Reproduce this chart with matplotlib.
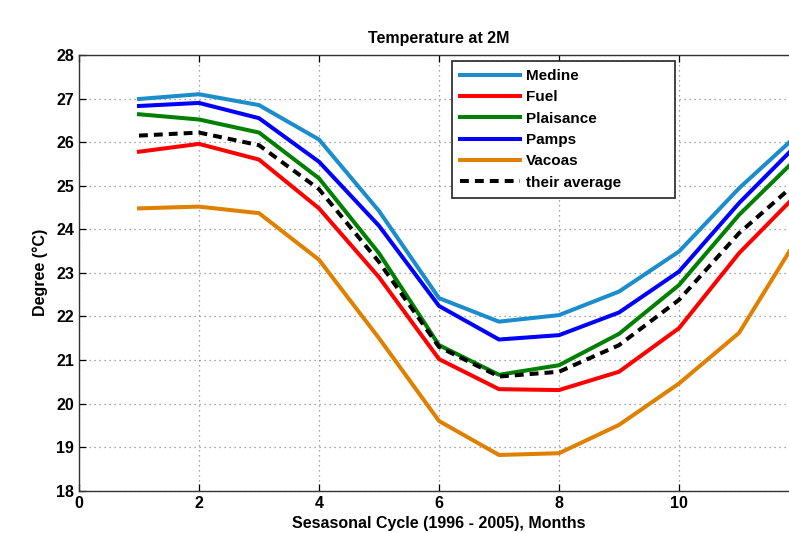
import matplotlib.pyplot as plt
import numpy as np

# Monthly climatology of 2 m temperature
months = [1, 2, 3, 4, 5, 6, 7, 8, 9, 10, 11, 12]
medine = [26.99, 27.10, 26.85, 26.06, 24.42, 22.42, 21.88, 22.03, 22.57, 23.49, 24.94, 26.20]
fuel = [25.78, 25.96, 25.60, 24.48, 22.90, 21.02, 20.33, 20.31, 20.73, 21.73, 23.45, 24.85]
plaisance = [26.64, 26.52, 26.22, 25.17, 23.45, 21.34, 20.66, 20.88, 21.60, 22.72, 24.33, 25.68]
pamps = [26.83, 26.90, 26.55, 25.55, 24.08, 22.24, 21.47, 21.57, 22.09, 23.03, 24.60, 25.99]
vacoas = [24.48, 24.52, 24.37, 23.30, 21.50, 19.60, 18.82, 18.86, 19.51, 20.46, 21.62, 23.85]
average = [26.15, 26.22, 25.93, 24.92, 23.25, 21.30, 20.62, 20.73, 21.34, 22.38, 23.91, 25.12]

series = [
    ('Medine', medine, '#1b8ccc'),
    ('Fuel', fuel, '#ff0000'),
    ('Plaisance', plaisance, '#008000'),
    ('Pamps', pamps, '#0000ff'),
    ('Vacoas', vacoas, '#e08000'),
]

plt.rcParams['font.family'] = ['Liberation Sans', 'DejaVu Sans']
plt.rcParams['font.weight'] = 'bold'

fig = plt.figure(figsize=(7.89, 5.33), dpi=100)
# axes extends past the right edge of the picture, like the cropped original
ax = fig.add_axes([79 / 789, 42.3 / 533, 720 / 789, 435.7 / 533])

for name, vals, col in series:
    ax.plot(months, vals, '-', color=col, lw=2.9, label=name)
ax.plot(months, average, '--', color='black', lw=2.9, dashes=(2.2, 1.5), label='their average')

ax.set_xlim(0, 12)
ax.set_ylim(18, 28)
# x = 12 sits just outside the picture, so only 0..10 get labels
ax.set_xticks(np.arange(0, 11, 2))
ax.set_yticks(np.arange(18, 29, 1))
ax.grid(True, linestyle=(0, (1, 3)), color='#8a8a8a', lw=0.9)
ax.tick_params(direction='in', top=True, right=True, labelsize=11.5, length=5, width=0.9)
for lab in ax.get_xticklabels() + ax.get_yticklabels():
    lab.set_fontweight('bold')
for sp in ax.spines.values():
    sp.set_linewidth(1.0)
    sp.set_color('#333333')

ax.set_title('Temperature at 2M', fontsize=11.5, fontweight='bold', pad=9)
ax.set_xlabel('Sesasonal Cycle (1996 - 2005), Months', fontsize=11.5, fontweight='bold', labelpad=4)
ax.set_ylabel('Degree (\u00b0C)', fontsize=11.5, fontweight='bold', labelpad=6)

leg = ax.legend(loc='upper left', bbox_to_anchor=(0.518, 0.0, 0.31, 0.987), mode='expand',
                borderaxespad=0, fontsize=11, handlelength=3.9, handletextpad=0.4,
                labelspacing=0.48, borderpad=0.55, fancybox=False, framealpha=1)
leg.get_frame().set_edgecolor('#222222')
leg.get_frame().set_linewidth(1.2)
for t in leg.get_texts():
    t.set_fontweight('bold')

fig.savefig('out.png', dpi=100)
